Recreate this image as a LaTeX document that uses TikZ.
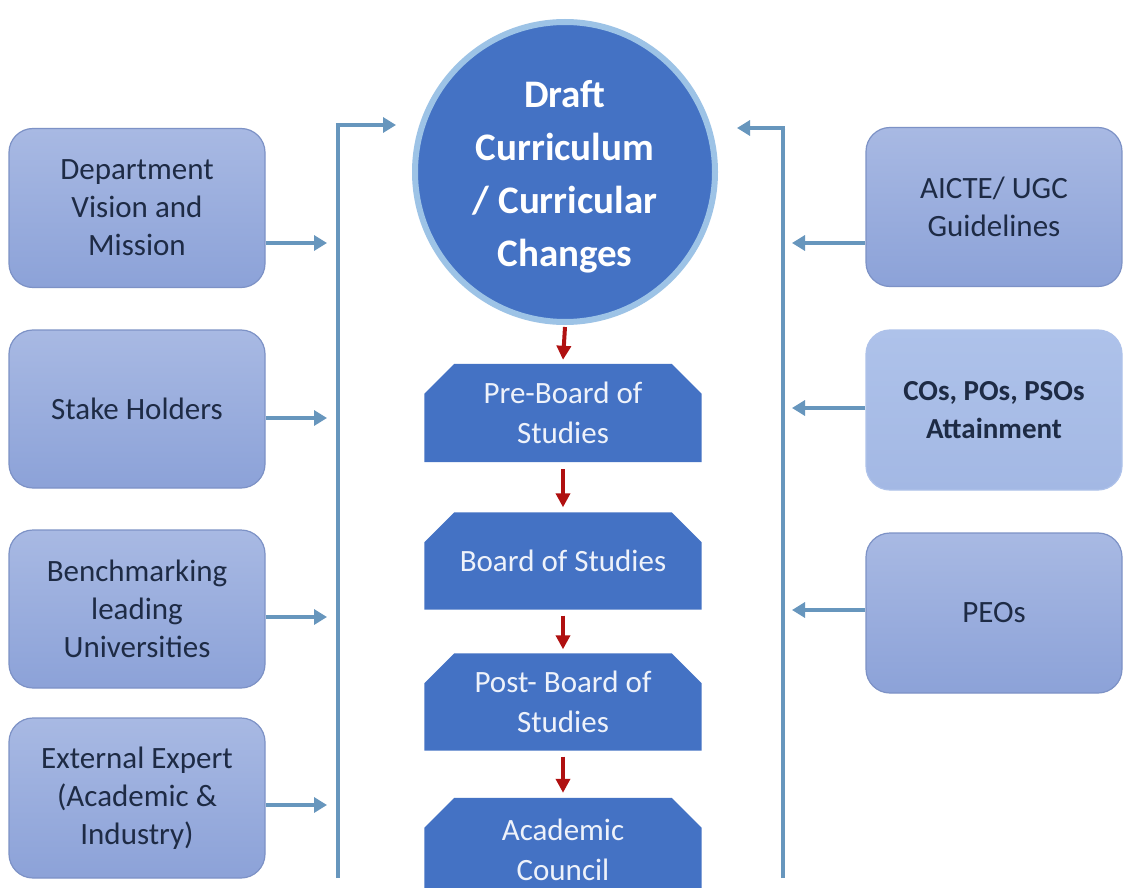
\documentclass[tikz,border=0pt]{standalone}
\usepackage{fontspec}
\setmainfont{Carlito}
\usetikzlibrary{arrows.meta,backgrounds}
\definecolor{boxtop}{HTML}{A8B9E3}
\definecolor{boxbot}{HTML}{8CA2D8}
\definecolor{boxedge}{HTML}{7D92C6}
\definecolor{lighttop}{HTML}{AEC2EA}
\definecolor{lightbot}{HTML}{A3B8E4}
\definecolor{navytext}{HTML}{1E2B45}
\definecolor{mainblue}{HTML}{4472C4}
\definecolor{ringblue}{HTML}{9DC3E6}
\definecolor{steel}{HTML}{6796BD}
\definecolor{darkred}{HTML}{B01010}
\definecolor{paletext}{HTML}{EEF2FA}
\begin{document}
\begin{tikzpicture}[x=1pt,y=-1pt,
  sidebox/.style={rounded corners=24pt, draw=boxedge, line width=1.2pt,
    top color=boxtop, bottom color=boxbot, minimum width=256pt, minimum height=159pt,
    align=center, text=navytext, font=\fontsize{31}{38}\selectfont},
  lightbox/.style={sidebox, draw=lighttop, top color=lighttop, bottom color=lightbot,
    font=\bfseries\fontsize{29}{38}\selectfont},
  stagebox/.style={minimum width=277pt, align=center, text=paletext,
    font=\fontsize{31}{40}\selectfont},
  feed/.style={draw=steel, line width=4.5pt, -{Triangle[width=15pt,length=13pt]}},
  flow/.style={draw=darkred, line width=4pt, -{Triangle[width=14pt,length=14pt]}},
  trunk/.style={draw=steel, line width=4.5pt}
]
\useasboundingbox (0,0) rectangle (1128,888);
\clip (0,0) rectangle (1128,888);

% central circle
\node[circle, minimum size=300pt, inner sep=0pt, fill=mainblue, draw=ringblue, line width=6pt] (draft) at (565,172) {};
\node[align=center, text=white, font=\bfseries\fontsize{39}{53}\selectfont] (draftlabel) at (565,177)
  {Draft\\Curriculum\\/ Curricular\\Changes};

% stage boxes
\node[stagebox, minimum height=98pt] (pre) at (563,413) {Pre-Board of\\Studies};
\node[stagebox, minimum height=97pt] (bos) at (563,561) {Board of Studies};
\node[stagebox, minimum height=97pt] (post) at (563,702) {Post- Board of\\Studies};
\node[stagebox, minimum height=104pt] (ac) at (563,850) {Academic\\Council};

\begin{scope}[on background layer]
  \fill[white] (0,0) rectangle (1128,888);
  \foreach \n in {pre,bos,post,ac}{
    \fill[mainblue] (\n.south west) -- ([yshift=-30pt]\n.north west) -- ([xshift=30pt]\n.north west)
      -- ([xshift=-30pt]\n.north east) -- ([yshift=-30pt]\n.north east) -- (\n.south east) -- cycle;
  }
\end{scope}

% left boxes
\node[sidebox] (dept) at (137,208) {Department\\Vision and\\Mission};
\node[sidebox, minimum height=158pt] (stake) at (137,409) {Stake Holders};
\node[sidebox, minimum height=158pt] (bench) at (137,609) {Benchmarking\\leading\\Universities};
\node[sidebox, minimum height=160pt] (expert) at (137,798) {External Expert\\(Academic \&\\Industry)};

% right boxes
\node[sidebox] (aicte) at (994,207) {AICTE/ UGC\\Guidelines};
\node[lightbox, minimum height=160pt] (cos) at (994,410) {COs, POs, PSOs\\Attainment};
\node[sidebox, minimum height=160pt] (peos) at (994,613) {PEOs};

% trunk coordinates
\coordinate (lbot) at (338,878);
\coordinate (ltop) at (338,125);
\coordinate (lend) at (396,125);
\coordinate (rbot) at (783,878);
\coordinate (rtop) at (783,128);
\coordinate (rend) at (737,128);

\draw[trunk] (lbot) -- (ltop);
\draw[trunk] (rbot) -- (rtop);
\draw[feed] ([xshift=-2.25pt]ltop) -- (lend);
\draw[feed] ([xshift=2.25pt]rtop) -- (rend);

% left feeds
\coordinate (t1) at (327,243);
\coordinate (t2) at (327,418);
\coordinate (t3) at (327,617);
\coordinate (t4) at (327,805);
\draw[feed] (dept.east |- t1) -- (t1);
\draw[feed] (stake.east |- t2) -- (t2);
\draw[feed] (bench.east |- t3) -- (t3);
\draw[feed] (expert.east |- t4) -- (t4);

% right feeds
\coordinate (u1) at (792,243);
\coordinate (u2) at (792,408);
\coordinate (u3) at (792,610);
\draw[feed] (aicte.west |- u1) -- (u1);
\draw[feed] (cos.west |- u2) -- (u2);
\draw[feed] (peos.west |- u3) -- (u3);

% red flow arrows
\draw[flow] ([yshift=-2pt]draft.south) -- ([yshift=4pt]pre.north);
\draw[flow] ([yshift=-7pt]pre.south) -- ([yshift=5pt]bos.north);
\draw[flow] ([yshift=-6pt]bos.south) -- ([yshift=4pt]post.north);
\draw[flow] ([yshift=-6pt]post.south) -- ([yshift=5pt]ac.north);
\end{tikzpicture}
\end{document}
